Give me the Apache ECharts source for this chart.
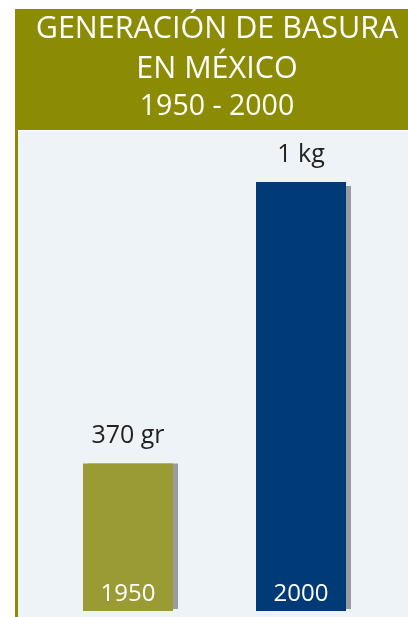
<!DOCTYPE html>
<html>
<head>
<meta charset="utf-8">
<title>Generación de basura en México</title>
<script src="https://cdn.jsdelivr.net/npm/echarts@6/dist/echarts.min.js"></script>
<style>
  html, body { margin: 0; padding: 0; background: #ffffff; }
  #chart { width: 408px; height: 617px; }
</style>
</head>
<body>
<div id="chart"></div>
<script>
// datos de la gráfica
const years = ['1950', '2000'];
const grams = [370, 1000];
const valueLabels = ['370 gr', '1 kg'];
const barColors = ['#9B9B35', '#003A77'];

const olive = '#8B8C04';
const font = '"Open Sans", "Noto Sans", sans-serif';

const chart = echarts.init(document.getElementById('chart'));

const option = {
  backgroundColor: '#ffffff',
  animation: false,
  graphic: [
    // franja del título
    { type: 'rect', z: -10, shape: { x: 15, y: 9, width: 393, height: 121 }, style: { fill: olive } },
    // fondo del área de barras
    { type: 'rect', z: -10, shape: { x: 18, y: 131, width: 390, height: 486 }, style: { fill: '#EEF3F7' } },
    // línea vertical izquierda
    { type: 'rect', z: -10, shape: { x: 15, y: 130, width: 3, height: 487 }, style: { fill: olive } }
  ],
  title: {
    text: 'GENERACIÓN DE BASURA\nEN MÉXICO',
    subtext: '1950 - 2000',
    left: 217,
    top: 9,
    textAlign: 'center',
    itemGap: 3,
    padding: 0,
    textStyle: {
      color: '#ffffff',
      fontFamily: font,
      fontWeight: 'normal',
      fontSize: 30.5,
      lineHeight: 40
    },
    subtextStyle: {
      color: '#ffffff',
      fontFamily: font,
      fontSize: 28.5,
      lineHeight: 30
    }
  },
  grid: [
    { left: 41.5, right: 20.5, top: 182, bottom: 6 },
    // sombra de las barras, desplazada
    { left: 46.5, right: 15.5, top: 186, bottom: 8 }
  ],
  xAxis: [
    {
      type: 'category',
      data: years,
      gridIndex: 0,
      axisLine: { show: false },
      axisTick: { show: false },
      axisLabel: {
        inside: true,
        margin: 5,
        color: '#ffffff',
        fontFamily: font,
        fontSize: 24
      },
      z: 10
    },
    {
      type: 'category',
      data: years,
      gridIndex: 1,
      show: false
    }
  ],
  yAxis: [
    { type: 'value', gridIndex: 0, min: 40, max: 1000, show: false },
    { type: 'value', gridIndex: 1, min: 40, max: 1000, show: false }
  ],
  series: [
    {
      type: 'bar',
      xAxisIndex: 1,
      yAxisIndex: 1,
      barWidth: 90,
      z: 1,
      silent: true,
      itemStyle: { color: '#9A9B9F' },
      data: grams
    },
    {
      type: 'bar',
      xAxisIndex: 0,
      yAxisIndex: 0,
      barWidth: 90,
      z: 2,
      data: grams.map((v, i) => ({ value: v, itemStyle: { color: barColors[i] } })),
      label: {
        show: true,
        position: 'top',
        distance: 15,
        color: '#222222',
        fontFamily: font,
        fontSize: 25,
        formatter: (p) => valueLabels[p.dataIndex]
      }
    }
  ]
};

chart.setOption(option);
</script>
</body>
</html>
